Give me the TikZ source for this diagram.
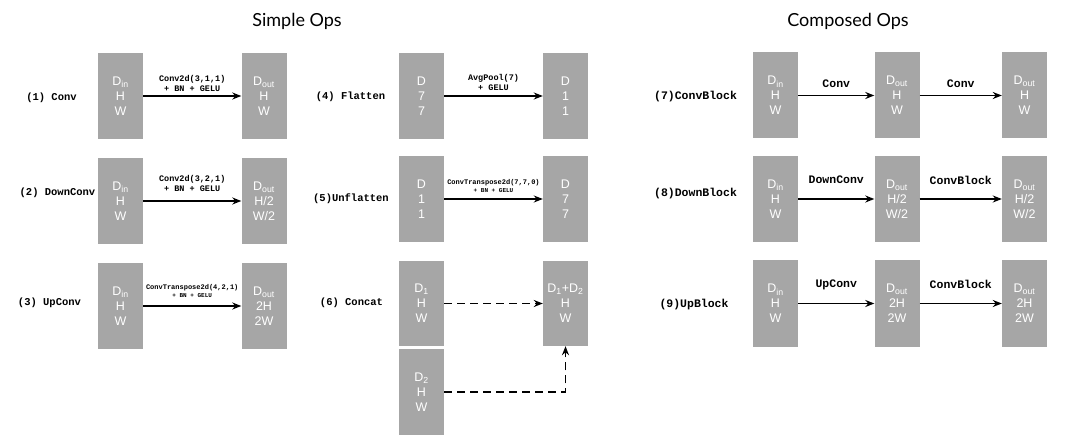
\documentclass[tikz,border=0pt]{standalone}
\usepackage{fontspec}
\setmainfont{Liberation Sans}
\newfontfamily\monob{Liberation Mono}[BoldFont={Liberation Mono Bold}]
\newfontfamily\titlefont{Lato}
\usetikzlibrary{arrows.meta}
\definecolor{boxgray}{HTML}{A6A6A6}
\tikzset{
  tensor/.style={rectangle, fill=boxgray, draw=none, minimum width=45pt, minimum height=86pt,
    inner sep=0pt, text=white, align=center, font=\fontsize{12.5}{15}\selectfont},
  arr/.style={line width=1.7pt, -{Stealth[length=9pt,width=7pt]}},
  darr/.style={arr, dash pattern=on 8pt off 5pt},
  oplabel/.style={font=\monob\bfseries\fontsize{10.5}{12}\selectfont, inner sep=0pt},
  coplabel/.style={font=\monob\bfseries\fontsize{11.5}{13}\selectfont, inner sep=0pt},
  elab/.style={font=\monob\bfseries\fontsize{8.5}{10}\selectfont, align=center, inner sep=0pt},
  elabs/.style={font=\monob\bfseries\fontsize{7}{8.5}\selectfont, align=center, inner sep=0pt},
  clab/.style={font=\monob\bfseries\fontsize{11.5}{13}\selectfont, inner sep=0pt},
  title/.style={font=\titlefont\fontsize{18}{20}\selectfont, inner sep=0pt}
}
\newcommand{\subtxt}[1]{\textsubscript{#1}}
\begin{document}
\begin{tikzpicture}[x=1pt,y=-1pt]
\useasboundingbox (0,0) rectangle (1070,446);
% titles
\node[title] (t1) at (297,21) {Simple Ops};
\node[title] (t2) at (848,21) {Composed Ops};
% row labels
\node[oplabel] (l1) at (51.5,98) {(1) Conv};
\node[oplabel] (l2) at (57.5,193) {(2) DownConv};
\node[oplabel] (l3) at (49.5,303) {(3) UpConv};
\node[oplabel] (l4) at (350.5,97) {(4) Flatten};
\node[oplabel] (l5) at (351,199) {(5)Unflatten};
\node[oplabel] (l6) at (351.5,303) {(6) Concat};
\node[coplabel] (l7) at (695.5,97) {(7)ConvBlock};
\node[coplabel] (l8) at (695.5,194) {(8)DownBlock};
\node[coplabel] (l9) at (694,305) {(9)UpBlock};
% (1) Conv
\node[tensor] (a1) at (120.5,96) {D\subtxt{in}\\H\\W};
\node[tensor] (b1) at (264,96) {D\subtxt{out}\\H\\W};
\draw[arr] (a1) -- node[elab, yshift=13pt] {Conv2d(3,1,1)\\+ BN + GELU} (b1);
% (2) DownConv
\node[tensor] (a2) at (120.5,201) {D\subtxt{in}\\H\\W};
\node[tensor] (b2) at (264,201) {D\subtxt{out}\\H/2\\W/2};
\draw[arr] (a2) -- node[elab, yshift=18pt] {Conv2d(3,2,1)\\+ BN + GELU} (b2);
% (3) UpConv
\node[tensor] (a3) at (120.5,306) {D\subtxt{in}\\H\\W};
\node[tensor] (b3) at (264,306) {D\subtxt{out}\\2H\\2W};
\draw[arr] (a3) -- node[elabs, yshift=15pt] {ConvTranspose2d(4,2,1)\\{\fontsize{6}{7}\selectfont + BN + GELU}} (b3);
% (4) Flatten
\node[tensor] (a4) at (421.5,96) {D\\7\\7};
\node[tensor] (b4) at (565.5,96) {D\\1\\1};
\draw[arr] (a4) -- node[elab, yshift=14pt] {AvgPool(7)\\+ GELU} (b4);
% (5) Unflatten
\node[tensor] (a5) at (421.5,199) {D\\1\\1};
\node[tensor] (b5) at (565.5,199) {D\\7\\7};
\draw[arr] (a5) -- node[elabs, yshift=13pt] {ConvTranspose2d(7,7,0)\\{\fontsize{6}{7}\selectfont + BN + GELU}} (b5);
% (6) Concat
\node[tensor, minimum height=85pt] (a6) at (421.5,303.5) {D\subtxt{1}\\H\\W};
\node[tensor] (c6) at (421.5,392) {D\subtxt{2}\\H\\W};
\node[tensor, minimum height=85pt] (b6) at (565.5,303.5) {D\subtxt{1}+D\subtxt{2}\\H\\W};
\draw[darr] (a6) -- (b6);
\draw[darr] (c6.east) -- (c6.east -| b6.south) -- (b6.south);
% (7) ConvBlock
\node[tensor] (a7) at (775.5,95.5) {D\subtxt{in}\\H\\W};
\node[tensor] (b7) at (897,95.5) {D\subtxt{out}\\H\\W};
\node[tensor] (c7) at (1024.5,95.5) {D\subtxt{out}\\H\\W};
\draw[arr] (a7) -- node[clab, yshift=12pt] {Conv} (b7);
\draw[arr] (b7) -- node[clab, yshift=12pt] {Conv} (c7);
% (8) DownBlock
\node[tensor] (a8) at (775.5,199) {D\subtxt{in}\\H\\W};
\node[tensor] (b8) at (897,199) {D\subtxt{out}\\H/2\\W/2};
\node[tensor] (c8) at (1024.5,199) {D\subtxt{out}\\H/2\\W/2};
\draw[arr] (a8) -- node[clab, yshift=19pt] {DownConv} (b8);
\draw[arr] (b8) -- node[clab, yshift=19pt] {ConvBlock} (c8);
% (9) UpBlock
\node[tensor] (a9) at (775.5,303.5) {D\subtxt{in}\\H\\W};
\node[tensor] (b9) at (897,303.5) {D\subtxt{out}\\2H\\2W};
\node[tensor] (c9) at (1024.5,303.5) {D\subtxt{out}\\2H\\2W};
\draw[arr] (a9) -- node[clab, yshift=19pt] {UpConv} (b9);
\draw[arr] (b9) -- node[clab, yshift=19pt] {ConvBlock} (c9);
\end{tikzpicture}
\end{document}
